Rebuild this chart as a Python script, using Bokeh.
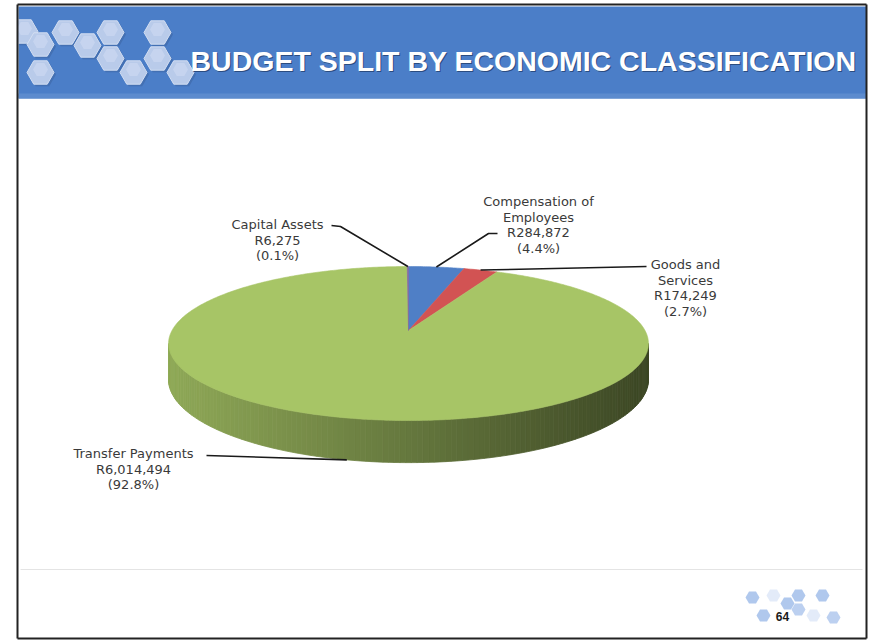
import numpy as np
from bokeh.plotting import figure
from bokeh.models import Range1d
from bokeh.embed import file_html
from bokeh.resources import INLINE
from bokeh.core.properties import value

# ---------------- data ----------------
categories = ["Compensation of Employees", "Goods and Services", "Transfer Payments", "Capital Assets"]
amounts = [284872, 174249, 6014494, 6275]
label_names = [["Compensation of", "Employees"], ["Goods and", "Services"], ["Transfer Payments"], ["Capital Assets"]]
slice_colors = ["#4F7FC6", "#D25353", "#A7C566", "#8064A2"]
title_text = "BUDGET SPLIT BY ECONOMIC CLASSIFICATION"
page_number = "64"

# ---------------- layout (screen-like coordinates) ----------------
W, H = 872, 643
CX, CY = 408.0, 330.0          # apex of the pie on screen
RY, RX, PERSP = 74.8, 236.5, 0.169
DEPTH = 35.0
label_centers = [(538, 201), (685, 264), (133, 453), (277, 224)]
leader_starts = [[(497, 233), (488, 233)], [(646, 266)], [(206, 455)], [(331, 225), (340, 226)]]
LINE_STEP = 15.5

p = figure(width=W, height=H, x_range=Range1d(0, W), y_range=Range1d(H, 0),
           output_backend="svg", toolbar_location=None, min_border=0,
           x_axis_location=None, y_axis_location=None)
p.grid.visible = False
p.outline_line_color = None
p.background_fill_color = "white"
p.border_fill_color = "white"


def proj(theta, drop=0.0):
    u = np.sin(theta)
    v = np.cos(theta)
    w = 1.0 / (1.0 + PERSP * v)
    return CX + RX * u * w, CY - RY * v * w + drop * w


# ---------------- header ----------------
p.quad(left=18, right=866, top=6, bottom=98, fill_color="#4B7EC8", line_color=None)
p.quad(left=18, right=866, top=93, bottom=98, fill_color="#5C8BCE", line_color=None)

hex_x = [24, 40, 65, 40, 87, 110, 110, 133, 157, 157, 180]
hex_y = [31, 44, 32, 72, 45, 32, 58, 72, 32, 58, 72]
p.scatter(x=[h + 2 for h in hex_x], y=[h + 2 for h in hex_y], marker="hex", size=27,
          fill_color="#3A5F99", fill_alpha=0.45, line_color=None)
p.scatter(x=hex_x, y=hex_y, marker="hex", size=27, fill_color="#B9CBEA",
          line_color="#D3DEF2", line_width=1)
p.scatter(x=hex_x, y=[h - 3 for h in hex_y], marker="hex", size=15, fill_color="#CEDBF1",
          fill_alpha=0.6, line_color=None)
p.quad(left=0, right=17, top=0, bottom=H, fill_color="white", line_color=None)

p.text(x=[191], y=[61], text=[title_text], text_font=value("Liberation Sans"),
       text_font_style="bold", text_font_size="28.5px", text_color="#2B4C80",
       text_align="left", text_baseline="middle")
p.text(x=[190], y=[60], text=[title_text], text_font=value("Liberation Sans"),
       text_font_style="bold", text_font_size="28.5px", text_color="white",
       text_align="left", text_baseline="middle")

# ---------------- pie ----------------
total = float(sum(amounts))
fracs = [a / total for a in amounts]
bounds = np.concatenate([[0.0], np.cumsum(fracs)]) * 2 * np.pi
vis_r = np.arccos(-PERSP)
vis_l = 2 * np.pi - vis_r

xmin, _ = proj(vis_l)
xmax, _ = proj(vis_r)

sx, sy, sc = [], [], []
for i, col in enumerate(slice_colors):
    a0, a1 = max(bounds[i], vis_r), min(bounds[i + 1], vis_l)
    if a1 <= a0:
        continue
    ts = np.linspace(a0, a1, max(int((a1 - a0) / 0.02), 2))
    base = np.array([int(col[k:k + 2], 16) for k in (1, 3, 5)], dtype=float)
    for t0, t1 in zip(ts[:-1], ts[1:]):
        x0, y0 = proj(t0)
        x1, y1 = proj(t1)
        x2, y2 = proj(t1, DEPTH)
        x3, y3 = proj(t0, DEPTH)
        xm = (x0 + x1) / 2
        f = 0.86 - 0.50 * (xm - xmin) / (xmax - xmin)
        c = np.clip(base * f, 0, 255).astype(int)
        sx.append([x0, x1, x2, x3])
        sy.append([y0, y1, y2, y3])
        sc.append("#%02x%02x%02x" % tuple(c))
p.patches(xs=sx, ys=sy, fill_color=sc, line_color=sc, line_width=0.8)

tx, ty = [], []
for i in range(len(amounts)):
    n = max(int((bounds[i + 1] - bounds[i]) / 0.01), 2)
    ts = np.linspace(bounds[i], bounds[i + 1], n)
    px, py = proj(ts)
    tx.append([CX] + list(px))
    ty.append([CY] + list(py))
p.patches(xs=tx, ys=ty, fill_color=slice_colors, line_color=slice_colors, line_width=0.6)

# ---------------- labels & leader lines ----------------
lx, ly, lt = [], [], []
mlx, mly = [], []
for i, amt in enumerate(amounts):
    lines = label_names[i] + ["R{:,}".format(amt), "({:.1f}%)".format(fracs[i] * 100)]
    cx, cy = label_centers[i]
    for k, s in enumerate(lines):
        lx.append(cx)
        ly.append(cy + k * LINE_STEP)
        lt.append(s)
    mid = (bounds[i] + bounds[i + 1]) / 2
    drop = DEPTH if vis_r < mid < vis_l else 0.0
    ex, ey = proj(mid, drop)
    pts = leader_starts[i] + [(ex, ey)]
    mlx.append([q[0] for q in pts])
    mly.append([q[1] for q in pts])

p.multi_line(xs=mlx, ys=mly, line_color="#1A1A1A", line_width=1.6)
p.text(x=lx, y=ly, text=lt, text_font=value("DejaVu Sans"), text_font_size="13px",
       text_color="#3A3A3A", text_align="center", text_baseline="middle")

# ---------------- footer ----------------
p.line(x=[20, 862], y=[569, 569], line_color="#E4E4E4", line_width=1)
fx = [752, 773, 798, 787, 822, 763, 798, 833, 813]
fy = [597, 595, 595, 603, 595, 615, 609, 617, 615]
fa = [0.7, 0.25, 0.7, 0.7, 0.7, 0.7, 0.6, 0.6, 0.25]
p.scatter(x=fx, y=fy, marker="hex", size=14, fill_color="#8FB0E6", fill_alpha=fa, line_color=None)
p.text(x=[782], y=[616], text=[page_number], text_font=value("Liberation Sans"), text_font_style="bold",
       text_font_size="12px", text_color="#1A1A1A", text_align="center", text_baseline="middle")

# slide frame
p.multi_line(xs=[[17, 17], [17, 866], [866, 866], [17, 866]],
             ys=[[4, 638], [4, 4], [4, 638], [638, 638]], line_color="#222222", line_width=2)

open("out.html", "w").write(file_html(p, INLINE))
